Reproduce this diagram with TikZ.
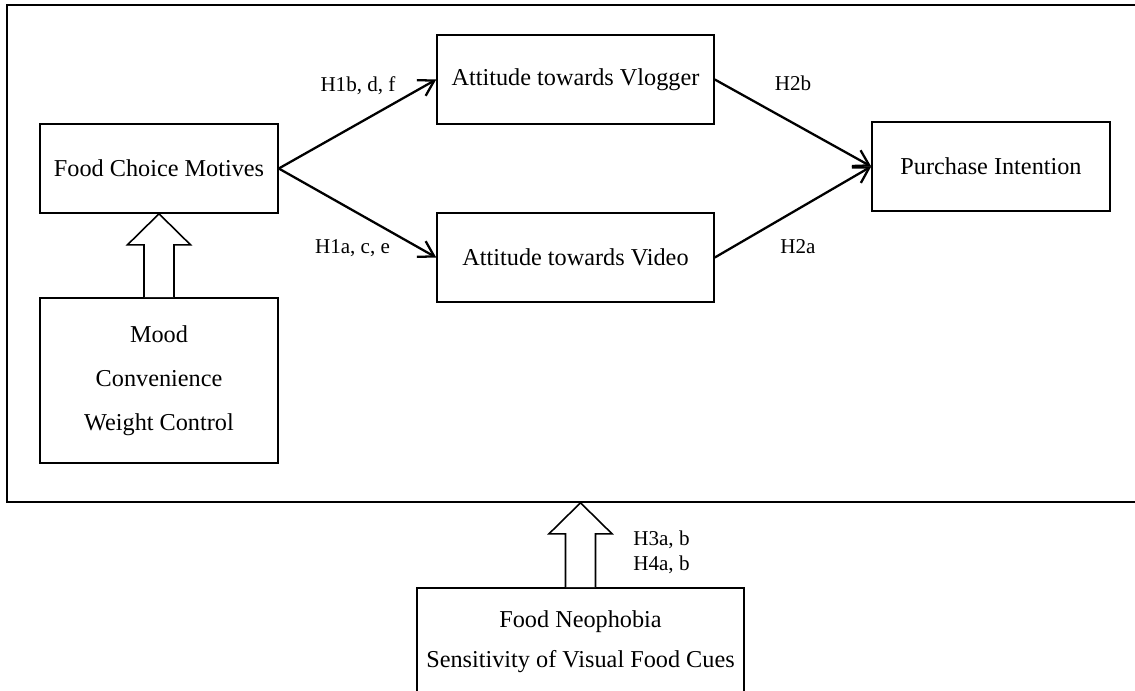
\documentclass[tikz,border=0pt]{standalone}
\usepackage{fontspec}
\setmainfont{Liberation Serif}
\usetikzlibrary{arrows.meta,positioning,calc}

\newcommand\fatup[2]{%
  \draw[fat] let \p1=(#1),\p2=(#2) in
    (\x1-.3cm,\y1)--(\x1-.3cm,\y2-.62cm)--(\x1-.63cm,\y2-.62cm)--(\x1,\y2)
    --(\x1+.63cm,\y2-.62cm)--(\x1+.3cm,\y2-.62cm)--(\x1+.3cm,\y1);}

\begin{document}
\begin{tikzpicture}[
  x=1cm,y=1cm,>={Straight Barb[length=3mm,width=3.6mm]},
  flow/.style={->,line width=1.3pt},
  box/.style={draw,line width=.9pt,align=center,minimum width=4.76cm,
    minimum height=1.78cm,inner sep=0pt,font=\fontsize{13.8}{25}\selectfont},
  wide/.style={box,minimum width=5.54cm},
  lbl/.style={font=\fontsize{12}{14.2}\selectfont,inner sep=0pt},
  fat/.style={line width=.9pt,fill=white}]
\useasboundingbox (0,0) rectangle (22.7,-13.8);
\clip (0,0) rectangle (22.7,-13.8);
\node[draw,line width=.9pt,minimum width=22.86cm,minimum height=9.94cm,inner sep=0pt] (frame) at (11.57,-5.07) {};
\node[box] (motives) at (3.18,-3.37) {Food Choice Motives};
\node[box,minimum height=3.3cm] (mood) at (3.18,-7.61) {Mood\\Convenience\\Weight Control};
\node[wide] (vlogger) at (11.51,-1.59) {Attitude towards Vlogger};
\node[wide] (video) at (11.51,-5.15) {Attitude towards Video};
\node[box] (intention) at (19.82,-3.33) {Purchase Intention};
\node[box,minimum width=6.54cm,minimum height=2.14cm,font=\fontsize{13.8}{22.8}\selectfont]
 (neophobia) at (11.61,-12.83) {Food Neophobia\\Sensitivity of Visual Food Cues};
\node[lbl] (h1b) at (7.16,-1.72) {H1b, d, f};
\node[lbl] (h1a) at (7.05,-4.96) {H1a, c, e};
\node[lbl] (h2b) at (15.86,-1.66) {H2b};
\node[lbl] (h2a) at (15.96,-4.94) {H2a};
\node[lbl,align=left,anchor=west] (h34) at (12.66,-11.05) {H3a, b\\H4a, b};
\draw[flow] (motives.east)--(vlogger.west);
\draw[flow] (motives.east)--(video.west);
\draw[flow] (vlogger.east)--(intention.west);
\draw[flow] (video.east)--(intention.west);
\fatup{mood.north}{motives.south}
\fatup{neophobia.north}{neophobia.north |- frame.south}
\end{tikzpicture}
\end{document}
